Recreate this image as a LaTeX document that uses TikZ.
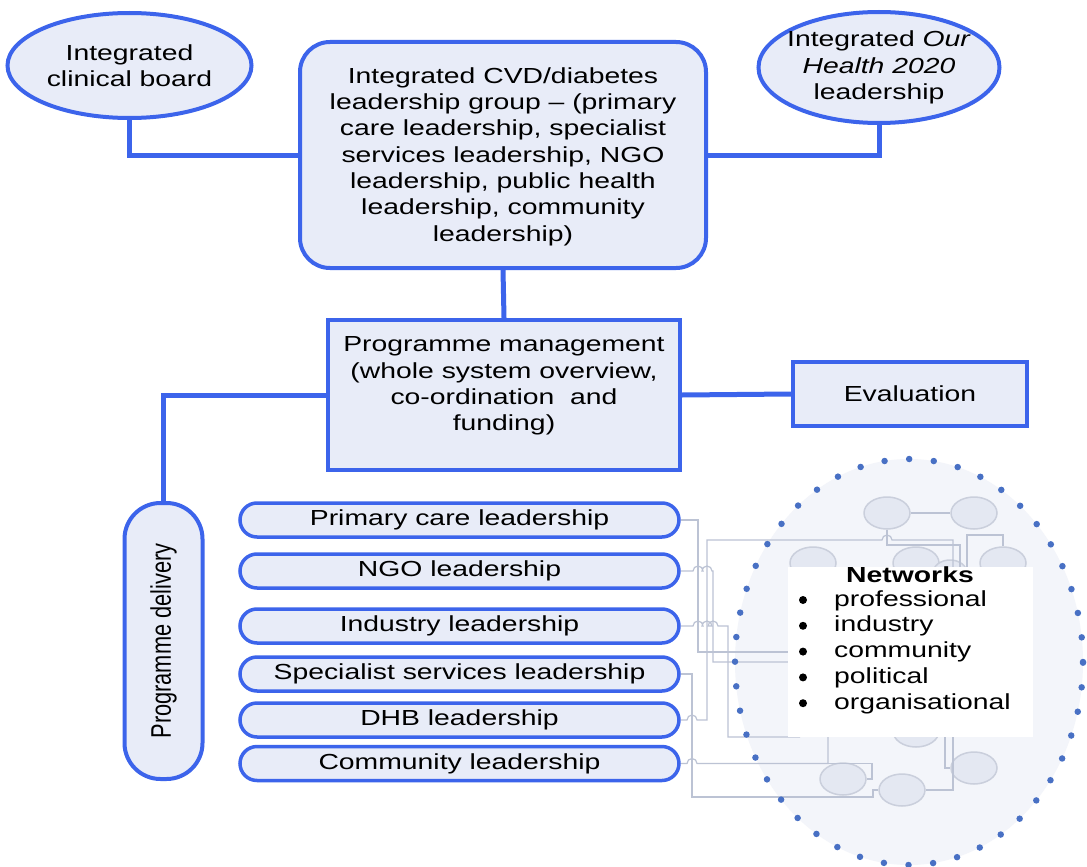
\documentclass[tikz,border=0pt]{standalone}
\usepackage{graphicx}
\usepackage{fontspec}
\setmainfont{Liberation Sans}[FakeStretch=1.3]
\newfontfamily\narrowsans{Liberation Sans}
\usetikzlibrary{shapes.geometric}

\definecolor{edgeblue}{RGB}{60,100,235}
\definecolor{boxfill}{RGB}{232,236,248}
\definecolor{dotblue}{RGB}{72,112,196}
\definecolor{netfill}{RGB}{243,245,250}
\definecolor{wirecol}{RGB}{188,195,212}
\definecolor{hubfill}{RGB}{228,232,242}
\definecolor{hubedge}{RGB}{202,207,220}

\begin{document}
\begin{tikzpicture}[x=1pt,y=-1pt,
  every node/.style={font=\fontsize{21.8}{26.3}\selectfont, text=black},
  conn/.style={draw=edgeblue, line width=5pt},
  bubble/.style={ellipse, draw=edgeblue, fill=boxfill, line width=4pt, inner sep=0pt},
  panel/.style={rectangle, draw=edgeblue, fill=boxfill, line width=4pt, inner sep=0pt},
  pill/.style={rectangle, rounded corners=17pt, draw=edgeblue, fill=boxfill,
    line width=3.5pt, minimum width=439pt, minimum height=34pt, inner sep=0pt},
  hub/.style={ellipse, draw=hubedge, fill=hubfill, line width=1.5pt,
    minimum width=46pt, minimum height=32pt, inner sep=0pt},
  wire/.style={draw=wirecol, line width=1.2pt},
  listitem/.style={anchor=base west, inner sep=0pt},
]
\fill[white] (0,0) rectangle (1087,867);
\useasboundingbox (0,0) rectangle (1087,867);

% ---------- governance level ----------
\node[bubble, minimum width=244pt, minimum height=105pt] (icb) at (129.5,65.5) {};
\node[align=center] at (icb) {Integrated\\clinical board};

\node[bubble, minimum width=241pt, minimum height=111pt] (ioh) at (879,67.5) {};
\node[align=center] at (ioh) {Integrated \textit{Our}\\\textit{Health 2020}\\leadership};

\node[panel, rounded corners=30pt, minimum width=406pt, minimum height=226pt] (lead) at (503,155) {};
\node[align=center, yshift=-1.5pt] at (lead) {Integrated CVD/diabetes\\leadership group -- (primary\\care leadership, specialist\\services leadership, NGO\\leadership, public health\\leadership, community\\leadership)};

% ---------- management level ----------
\node[panel, minimum width=352pt, minimum height=150pt] (pm) at (504,395) {};
\node[align=center, yshift=9pt] at (pm) {Programme management\\(whole system overview,\\co-ordination\ \ and\\funding)};

\node[panel, minimum width=234pt, minimum height=64pt] (eval) at (910,394) {Evaluation};

% ---------- delivery level ----------
\node[panel, rounded corners=36pt, minimum width=78pt, minimum height=276pt] (pd) at (163.5,641) {};
\node[rotate=90] at (pd) {\scalebox{1}[1.3]{\narrowsans Programme delivery}};

\node[pill] (p1) at (459.5,520) {Primary care leadership};
\node[pill] (p2) at (459.5,571) {NGO leadership};
\node[pill] (p3) at (459.5,626) {Industry leadership};
\node[pill] (p4) at (459.5,674) {Specialist services leadership};
\node[pill] (p5) at (459.5,720) {DHB leadership};
\node[pill] (p6) at (459.5,763.5) {Community leadership};

% ---------- main connectors ----------
\draw[conn] (icb.south) |- (lead.west);
\draw[conn] (ioh.south) |- (lead.east);
\draw[conn] (lead.south) -- (pm.north);
\draw[conn] (pm.east) -- (eval.west);
\draw[conn] (pm.west) -| (pd.north);

% ---------- networks cloud ----------
\node[ellipse, fill=netfill, minimum width=348pt, minimum height=406pt, inner sep=0pt] (net) at (909,662) {};

\node[hub] (c1) at (887,513) {};
\node[hub] (c2) at (974,513) {};
\node[hub] (c3) at (813,563) {};
\node[hub] (c4) at (916,563) {};
\node[hub] (c5) at (1003,563) {};
\node[hub, minimum width=34pt, minimum height=26pt] (c6) at (950,573) {};
\node[hub] (c7) at (974,768) {};
\node[hub] (c8) at (843,779) {};
\node[hub] (c9) at (902,790) {};
\node[hub] (c10) at (916,731) {};

% wiring from the leadership strands into the networks
\draw[wire] (p1.east) -- (698,520) -- (698,652) -- (800,652);
\draw[wire] (p5.east) -- (687,720) arc[start angle=180, end angle=0, radius=5pt] -- (707,720) -- (707,540)
  -- (882,540) arc[start angle=180, end angle=0, radius=5pt] -- (953,540) -- (953,580);
\draw[wire] (p2.east) -- (693,571) arc[start angle=180, end angle=0, radius=5pt]
  -- (702,571) arc[start angle=180, end angle=0, radius=5pt] -- (713,571) -- (713,662) -- (800,662);
\draw[wire] (p3.east) -- (693,626) arc[start angle=180, end angle=0, radius=5pt]
  -- (702,626) arc[start angle=180, end angle=0, radius=5pt]
  -- (708,626) arc[start angle=180, end angle=0, radius=5pt] -- (728,626) -- (728,737) -- (800,737);
\draw[wire] (p4.east) -- (692,674) -- (692,797) -- (873,797) -- (873,790) -- (c9.west);
\draw[wire] (p6.east) -- (687,763.5) arc[start angle=180, end angle=0, radius=5pt] -- (828,763.5) -- (828,730);
\draw[wire] (828,763.5) -- (872,763.5) -- (872,779) -- (c8.east);
\draw[wire] (c1.east) -- (c2.west);
\draw[wire] (c1.south) -- (887,545) -- (960,545) -- (960,580);
\draw[wire] (967,580) -- (967,535) -- (1003,535) -- (c5.north);
\draw[wire] (c9.east) -- (953,790) -- (953,730);
\draw[wire] (945,730) -- (945,768) -- (c7.west);

% legend panel
\node[fill=white, minimum width=245pt, minimum height=170pt, inner sep=0pt] (netbox) at (910.5,652) {};
\node[font=\fontsize{21.8}{25.8}\selectfont\bfseries] (nettitle) at (910,575) {Networks};
\foreach \word [count=\i from 0] in {professional, industry, community, political, organisational} {
  \fill[black] (803,600+25.8*\i) circle[radius=4pt];
  \node[listitem] (item\i) at (834,606+25.8*\i) {\word};
}

% dotted outline of the networks cloud
\node[ellipse, draw=dotblue, line width=6.5pt, dash pattern=on 0pt off 24.7pt, line cap=round,
  minimum width=348pt, minimum height=406pt, inner sep=0pt] (netrim) at (net) {};
\end{tikzpicture}
\end{document}
